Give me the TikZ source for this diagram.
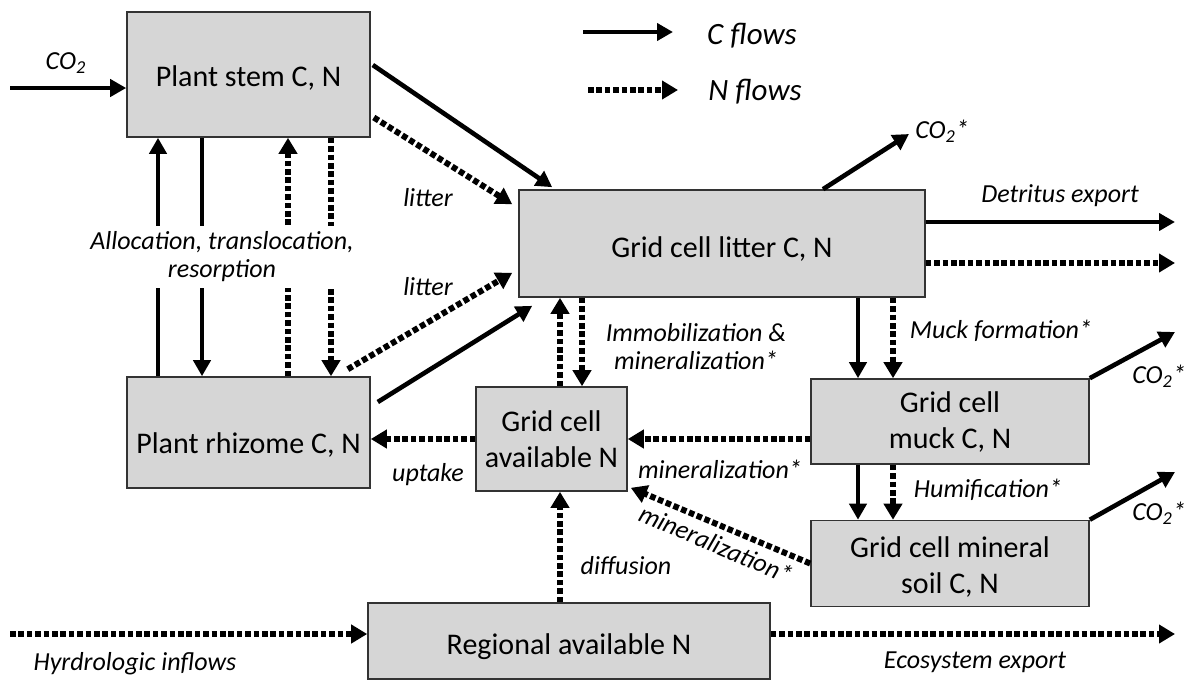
\documentclass[tikz,border=0pt]{standalone}
\usepackage{fontspec}
\setmainfont{Carlito}
\usetikzlibrary{arrows.meta}

\begin{document}
\begin{tikzpicture}[x=0.5pt,y=-0.5pt,
                    my box/.style={
                        draw=black!80,
                        line width=0.8pt,
                        fill=black!16,
                        align=center,
                        inner sep=0pt,
                        font=\fontsize{15}{18}\selectfont},
                    low text/.style={text height=#1,text depth=3pt}, % pushes a one-line text a bit down
                    my label/.style={font=\itshape\fontsize{13}{14}\selectfont,align=center,inner sep=1pt},
                    my legend/.style={font=\itshape\fontsize{15.5}{18}\selectfont,inner sep=0pt},
                    c flow/.style={line width=2.3pt,-{Triangle[length=8pt,width=8.5pt]}},
                    n flow/.style={line width=3pt,dash pattern=on 2.8pt off 1.4pt,-{Triangle[length=8pt,width=9pt]}}]
\useasboundingbox (0,0) rectangle (1188,681);
% the pools
\node[my box,low text=15pt,minimum width=121.5pt,minimum height=62.5pt] (stem) at (248.5,74.5) {Plant stem C, N};
\node[my box,low text=24pt,minimum width=121.5pt,minimum height=55.5pt] (rhizome) at (248.5,432.5) {Plant rhizome C, N};
\node[my box,low text=17pt,minimum width=203pt,minimum height=53.5pt] (litter) at (722,243.5) {Grid cell litter C, N};
\node[my box,minimum width=75.5pt,minimum height=52pt] (availN) at (551.5,439) {Grid cell\\available N};
\node[my box,minimum width=139pt,minimum height=42.5pt] (muck) at (950,421.5) {Grid cell\\muck C, N};
\node[my box,minimum width=139pt,minimum height=43pt] (mineral) at (950,563.5) {\rule{0pt}{14pt}Grid cell mineral\\soil C, N};
\node[my box,low text=16pt,minimum width=201pt,minimum height=38pt] (regional) at (569,641) {Regional available N};
% columns of the vertical flows
\coordinate (cUp) at (158,0);
\coordinate (cDown) at (202,0);
\coordinate (nUp) at (288,0);
\coordinate (nDown) at (331,0);
\coordinate (immoUp) at (560,0);
\coordinate (immoDown) at (582,0);
\coordinate (muckC) at (858,0);
\coordinate (muckN) at (893,0);
\coordinate (diffX) at (560,0);
% free ends
\coordinate (co2 in) at (10,88);
\coordinate (co2 litter) at (909,134);
\coordinate (co2 muck) at (1175,332);
\coordinate (co2 mineral) at (1175,472);
\coordinate (det c) at (1175,222);
\coordinate (det n) at (1175,263);
\coordinate (hydro) at (10,634);
\coordinate (eco export) at (1175,634);
\coordinate (leg c start) at (583,32);
\coordinate (leg c end) at (673,32);
\coordinate (leg n start) at (588,90);
\coordinate (leg n end) at (678,90);
% legend
\draw[c flow] (leg c start) -- (leg c end);
\draw[n flow] (leg n start) -- (leg n end);
\node[my legend] (c flows) at (752,36) {C flows};
\node[my legend] (n flows) at (755,92) {N flows};
% plant
\draw[c flow] (co2 in) -- (stem.west |- co2 in);
\node[my label] (co2 in label) at (66,63) {CO\textsubscript{2}};
\draw[c flow] (rhizome.north -| cUp) -- (stem.south -| cUp);
\draw[c flow] (stem.south -| cDown) -- (rhizome.north -| cDown);
\draw[n flow] (rhizome.north -| nUp) -- (stem.south -| nUp);
\draw[n flow] (stem.south -| nDown) -- (rhizome.north -| nDown);
\node[my label,fill=white,inner sep=3pt] (alloc) at (222,257) {Allocation, translocation,\\resorption}; % hides the middle of the four flows
% litter fall
\draw[c flow] ([shift={(2,-9.5)}]stem.east) -- ([shift={(34,-2)}]litter.north west);
\draw[n flow] ([shift={(3,43)}]stem.east) -- ([shift={(-6,15)}]litter.north west);
\node[my label] (litter upper) at (428,198) {litter};
\draw[n flow] ([shift={(-23,-7)}]rhizome.north east) -- ([shift={(-6,-25)}]litter.south west);
\draw[c flow] ([shift={(7,-30.5)}]rhizome.east) -- ([shift={(14,8)}]litter.south west);
\node[my label] (litter lower) at (428,287) {litter};
% litter pool
\draw[c flow] ([shift={(101,0)}]litter.north) -- (co2 litter);
\node[my label] (co2 litter label) at (942,131) {CO\textsubscript{2}*};
\draw[c flow] (litter.east |- det c) -- (det c);
\draw[n flow] (litter.east |- det n) -- (det n);
\node[my label] (detritus) at (1060,196) {Detritus export};
\draw[n flow] (availN.north -| immoUp) -- (litter.south -| immoUp);
\draw[n flow] (litter.south -| immoDown) -- (availN.north -| immoDown);
\node[my label] (immo) at (696,347) {Immobilization \&\\mineralization*};
\draw[c flow] (litter.south -| muckC) -- (muck.north -| muckC);
\draw[n flow] (litter.south -| muckN) -- (muck.north -| muckN);
\node[my label] (muck formation) at (1001,331) {Muck formation*};
% muck and mineral soil
\draw[c flow] (muck.north east) -- (co2 muck);
\node[my label] (co2 muck label) at (1159,376) {CO\textsubscript{2}*};
\draw[c flow] (muck.south -| muckC) -- (mineral.north -| muckC);
\draw[n flow] (muck.south -| muckN) -- (mineral.north -| muckN);
\node[my label] (humification) at (988,490) {Humification*};
\draw[c flow] (mineral.north east) -- (co2 mineral);
\node[my label] (co2 mineral label) at (1159,513) {CO\textsubscript{2}*};
% available N
\draw[n flow] (muck.west |- availN.east) -- (availN.east);
\node[my label] (min muck) at (720,469) {mineralization*};
\draw[n flow] (mineral.west) -- ([shift={(3,-4)}]availN.south east);
\node[my label,rotate=-23] (min mineral) at (716,544) {mineralization*};
\draw[n flow] (availN.west) -- (rhizome.east |- availN.west);
\node[my label] (uptake) at (428,475) {uptake};
\draw[n flow] (regional.north -| diffX) -- (availN.south -| diffX);
\node[my label] (diffusion) at (626,566) {diffusion};
% regional N
\draw[n flow] (hydro) -- (regional.west |- hydro);
\node[my label] (hydro label) at (135,664) {Hyrdrologic inflows};
\draw[n flow] (regional.east |- eco export) -- (eco export);
\node[my label] (eco label) at (975,662) {Ecosystem export};
\end{tikzpicture}
\end{document}
